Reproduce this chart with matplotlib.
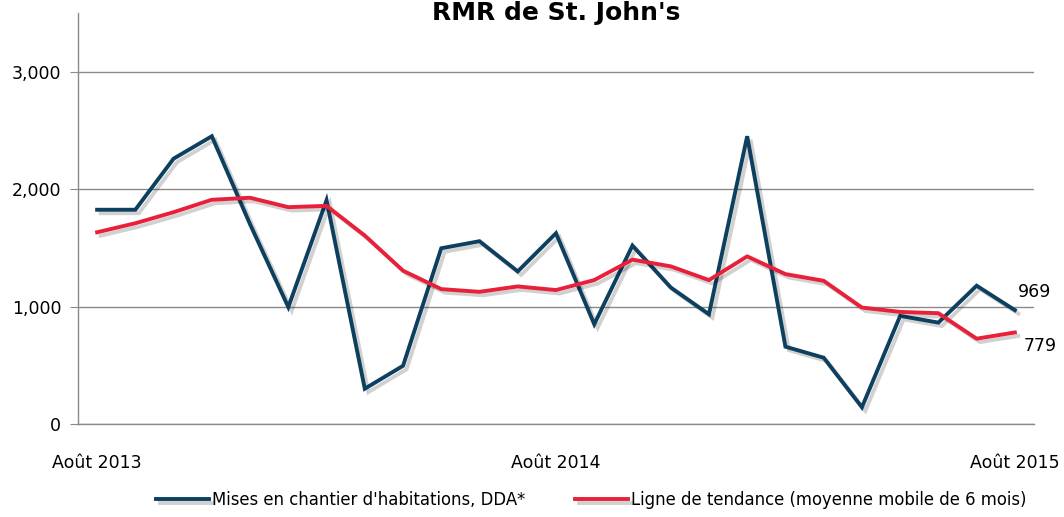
import numpy as np
import matplotlib
matplotlib.use("Agg")
import matplotlib.pyplot as plt
import matplotlib.patheffects as pe

'''Data read off the reference chart (Aug 2013 - Aug 2015, monthly)'''
months = ["Août 2013"] + [""] * 11 + ["Août 2014"] + [""] * 11 + ["Août 2015"]
mises_en_chantier = [1824, 1824, 2259, 2450, 1700, 995, 1905, 300, 495, 1496,
                     1556, 1299, 1624, 849, 1519, 1162, 934, 2450, 658, 564,
                     142, 920, 863, 1177, 969]
tendance = [1632, 1709, 1803, 1909, 1926, 1846, 1857, 1604, 1305, 1148,
            1125, 1171, 1140, 1225, 1399, 1342, 1225, 1427, 1276, 1219,
            991, 954, 943, 726, 779]
y_ticks = [0, 1000, 2000, 3000]

blue = "#0d3f5f"
red = "#e8203a"
grid_gray = "#8a8a8a"

plt.rcParams['font.family'] = ['DejaVu Sans']


def main():
    fig = plt.figure(figsize=(10.64, 5.17), dpi=100)
    ax = fig.add_axes([0.0733, 0.18, 0.8985, 0.795])

    x = np.arange(len(months))
    shadow = [pe.SimpleLineShadow(offset=(2.5, -2.5), shadow_color="black", alpha=0.18),
              pe.Normal()]

    ax.plot(x, mises_en_chantier, color=blue, lw=2.8, solid_joinstyle="miter",
            label="Mises en chantier d'habitations, DDA*", path_effects=shadow, zorder=3)
    ax.plot(x, tendance, color=red, lw=2.8, solid_joinstyle="round",
            label="Ligne de tendance (moyenne mobile de 6 mois)", path_effects=shadow, zorder=4)

    ax.set_xlim(-0.5, len(months) - 0.5)
    ax.set_ylim(0, 3500)
    ax.set_yticks(y_ticks)
    ax.set_yticklabels([f"{v:,}" for v in y_ticks])
    ax.set_xticks(x)
    ax.set_xticklabels(months)
    ax.grid(axis="y", color=grid_gray, lw=1)
    ax.set_axisbelow(True)

    for side in ["top", "right"]:
        ax.spines[side].set_visible(False)
    for side in ["left", "bottom"]:
        ax.spines[side].set_color(grid_gray)
        ax.spines[side].set_linewidth(1)

    ax.tick_params(axis="y", length=6, color=grid_gray, labelsize=12.5, pad=6)
    ax.tick_params(axis="x", length=0, labelsize=12.5, pad=22)

    # end-of-series labels
    ax.annotate(f"{mises_en_chantier[-1]:,}", (x[-1], mises_en_chantier[-1]),
                xytext=(2, 13), textcoords="offset points", fontsize=12.5,
                ha="left", va="center")
    ax.annotate(f"{tendance[-1]:,}", (x[-1], tendance[-1]),
                xytext=(6, -10), textcoords="offset points", fontsize=12.5,
                ha="left", va="center")

    fig.text(0.523, 0.962, "RMR de St. John's", ha="center", va="baseline",
             fontsize=18, fontweight="bold")

    fig.legend(*ax.get_legend_handles_labels(), loc="center",
               bbox_to_anchor=(0.556, 0.033), ncol=2, frameon=False,
               fontsize=11.9, handlelength=3.2, handletextpad=0.2,
               columnspacing=3.0)

    fig.savefig("out.png", dpi=100)


if __name__ == '__main__':
    main()
